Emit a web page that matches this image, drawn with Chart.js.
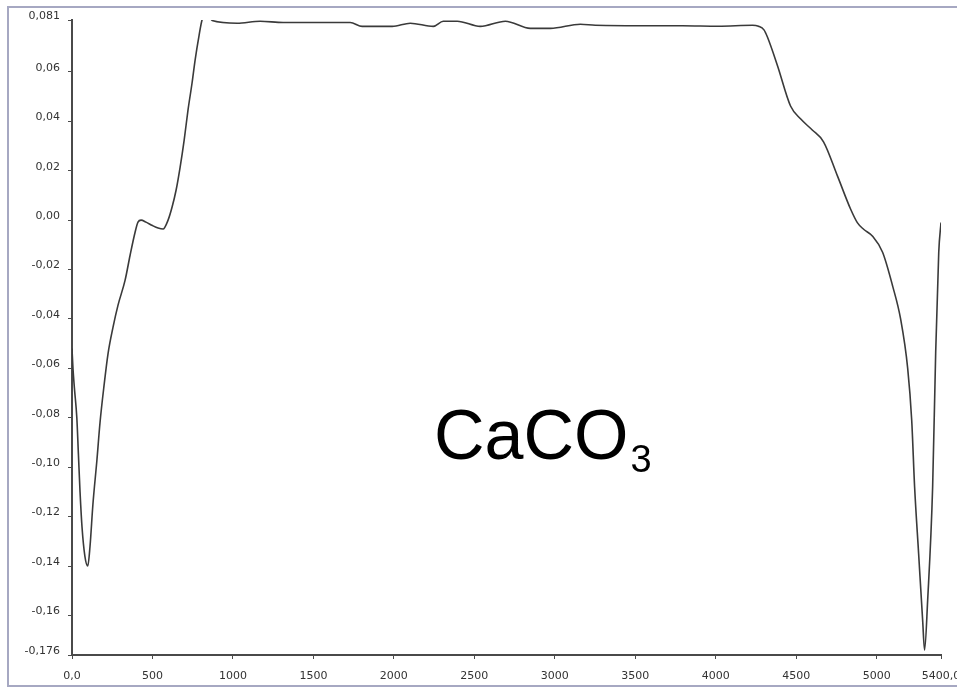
<!DOCTYPE html>
<html>
<head>
<meta charset="utf-8">
<script src="https://cdn.jsdelivr.net/npm/chart.js@4.4.0/dist/chart.umd.min.js"></script>
<style>
  html, body { margin: 0; padding: 0; overflow: hidden; background: #fff; width: 957px; height: 688px; }
  #frame { position: absolute; left: 7px; top: 6px; width: 980px; height: 677px;
           border-left: 2px solid #a6a8c2; border-top: 2px solid #a6a8c2; border-bottom: 2px solid #a6a8c2; }
  #wrap { position: absolute; left: 0; top: 0; width: 961px; height: 688px; }
  #formula { position: absolute; left: 434px; top: 400px; font-family: "Liberation Sans", Arial, sans-serif;
             font-size: 70px; line-height: 70px; color: #000; white-space: nowrap; }
  #formula sub { font-size: 38px; vertical-align: baseline; position: relative; top: 13px; margin-left: 2px; }
</style>
</head>
<body>
<div id="frame"></div>
<div id="wrap"><canvas id="c" width="961" height="688"></canvas></div>
<div id="formula">CaCO<sub>3</sub></div>
<script>
// Signal trace: time (x) against measured value (y)
const timeValues = [
  0, 6, 15, 30, 40, 50, 62, 80, 98, 112, 130, 155, 174, 199, 224, 255, 286, 330, 361, 392,
  410, 429, 460, 500, 535, 566, 597, 622, 647, 672, 697, 721, 746, 765, 790, 808, 840, 871,
  1026, 1169, 1312, 1729, 1803, 1990, 2102, 2245, 2307, 2394, 2537, 2693, 2848, 2973, 3159,
  3252, 3600, 3794, 4017, 4229, 4266, 4300, 4322, 4384, 4465, 4527, 4600, 4670, 4757, 4838,
  4880, 4919, 4975, 5037, 5100, 5149, 5193, 5218, 5236, 5261, 5286, 5298, 5317, 5348, 5367,
  5386, 5400
];
const signalValues = [
  -0.052, -0.060, -0.068, -0.080, -0.095, -0.110, -0.124, -0.136, -0.140, -0.132, -0.115,
  -0.097, -0.082, -0.067, -0.054, -0.0433, -0.0344, -0.0243, -0.0142, -0.0049,
  -0.0008, 0.0000, -0.0008, -0.0022, -0.0032, -0.0036, 0.0000, 0.0053, 0.0122, 0.0215,
  0.0324, 0.0446, 0.0555, 0.0648, 0.0749, 0.0810, 0.0840, 0.0808,
  0.0797, 0.0805, 0.0800, 0.0800, 0.0784, 0.0784, 0.0797, 0.0784, 0.0805, 0.0805, 0.0784,
  0.0805, 0.0776, 0.0776, 0.0793, 0.0789, 0.0787, 0.0787, 0.0785, 0.0789, 0.0785, 0.0770,
  0.0740, 0.0625, 0.0462, 0.0410, 0.0365, 0.0317, 0.0178, 0.0045, -0.0010, -0.0037,
  -0.0065, -0.0130, -0.0268, -0.0400, -0.0600, -0.0810, -0.1080, -0.1350, -0.1620,
  -0.1740, -0.1540, -0.1080, -0.0535, -0.0130, -0.0010
];

// Axis ticks and their printed labels
const xTickValues = [0, 500, 1000, 1500, 2000, 2500, 3000, 3500, 4000, 4500, 5000, 5400];
const xTickLabels = ['0,0', '500', '1000', '1500', '2000', '2500', '3000', '3500', '4000', '4500', '5000', '5400,0'];
const yTickValues = [0.081, 0.06, 0.04, 0.02, 0.00, -0.02, -0.04, -0.06, -0.08, -0.10, -0.12, -0.14, -0.16, -0.176];
const yTickLabels = ['0,081', '0,06', '0,04', '0,02', '0,00', '-0,02', '-0,04', '-0,06', '-0,08', '-0,10', '-0,12', '-0,14', '-0,16', '-0,176'];

const points = timeValues.map((t, i) => ({ x: t, y: signalValues[i] }));

const axisColor = '#4a4a4a';
const labelFont = { family: '"DejaVu Sans", Verdana, sans-serif', size: 11 };

new Chart(document.getElementById('c'), {
  type: 'line',
  data: {
    datasets: [{
      data: points,
      borderColor: '#3a3a3a',
      borderWidth: 1.6,
      pointRadius: 0,
      fill: false,
      cubicInterpolationMode: 'monotone'
    }]
  },
  options: {
    responsive: false,
    devicePixelRatio: 1,
    animation: false,
    events: [],
    layout: { padding: { top: 20, left: 0, right: 20, bottom: 0 } },
    plugins: { legend: { display: false }, tooltip: { enabled: false } },
    scales: {
      x: {
        type: 'linear',
        min: 0,
        max: 5400,
        afterBuildTicks: s => { s.ticks = xTickValues.map(v => ({ value: v })); },
        // fixed axis band; the last label is allowed to run past the plot edge
        afterFit: s => { s.height = 33; s.paddingLeft = 0; s.paddingRight = 20; },
        ticks: {
          autoSkip: false, maxRotation: 0, padding: 11, color: '#333', font: labelFont,
          callback: (v, i) => xTickLabels[i]
        },
        grid: { drawOnChartArea: false, drawTicks: true, tickLength: 4, color: axisColor },
        border: { display: true, color: axisColor, width: 2 }
      },
      y: {
        type: 'linear',
        min: -0.176,
        max: 0.081,
        afterBuildTicks: s => { s.ticks = yTickValues.map(v => ({ value: v })); },
        afterFit: s => { s.width = 72; },
        ticks: {
          autoSkip: false, padding: 8, labelOffset: -4, color: '#333', font: labelFont,
          callback: (v, i) => yTickLabels[i]
        },
        grid: { drawOnChartArea: false, drawTicks: true, tickLength: 4, color: axisColor },
        border: { display: true, color: axisColor, width: 2 }
      }
    }
  }
});
</script>
</body>
</html>
